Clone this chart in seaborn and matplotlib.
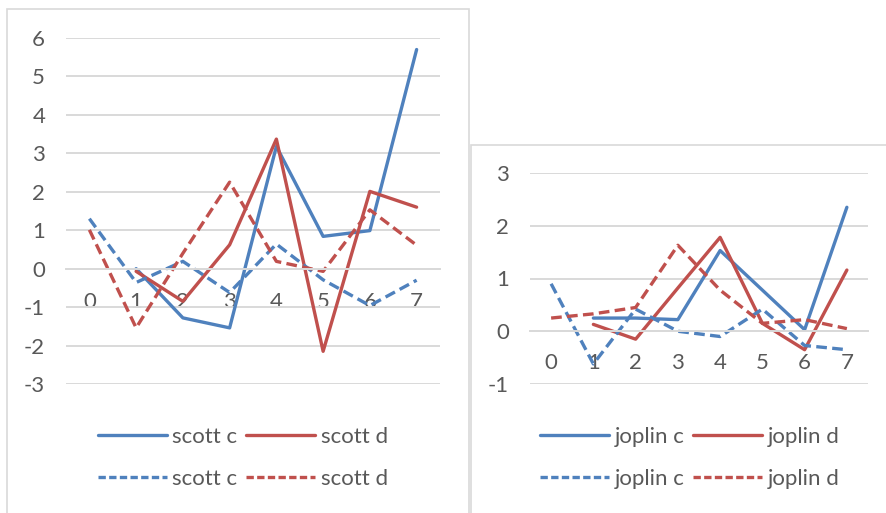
import numpy as np
import pandas as pd
import matplotlib
matplotlib.use("Agg")
import matplotlib.pyplot as plt
from matplotlib.lines import Line2D
from matplotlib.patches import Rectangle
import seaborn as sns

sns.set_style("white")
plt.rcParams['font.family'] = ['Lato', 'DejaVu Sans']
plt.rcParams['axes.unicode_minus'] = False

# category positions
cats = [0, 1, 2, 3, 4, 5, 6, 7]

# left chart (scott)
scott_c_solid = [np.nan, 0.0, -1.28, -1.54, 3.18, 0.84, 0.99, 5.70]
scott_d_solid = [np.nan, -0.07, -0.85, 0.62, 3.37, -2.15, 2.01, 1.60]
scott_c_dash = [1.30, -0.36, 0.19, -0.62, 0.64, -0.29, -0.96, -0.30]
scott_d_dash = [1.01, -1.54, 0.40, 2.25, 0.19, -0.07, 1.53, 0.61]

# right chart (joplin)
joplin_c_solid = [np.nan, 0.25, 0.25, 0.22, 1.53, 0.78, 0.03, 2.35]
joplin_d_solid = [np.nan, 0.13, -0.15, 0.82, 1.78, 0.15, -0.35, 1.16]
joplin_c_dash = [0.90, -0.62, 0.42, 0.0, -0.10, 0.42, -0.27, -0.35]
joplin_d_dash = [0.25, 0.33, 0.45, 1.63, 0.78, 0.15, 0.22, 0.05]

BLUE = "#4F81BD"
RED = "#C0504D"
GRID = "#D9D9D9"
TXT = "#595959"
W, H = 886, 513
FS = 16


def box(x0, y0, x1, y1):
    # pixel box (top-left origin) -> figure fraction rect
    return [x0 / W, 1 - y1 / H, (x1 - x0) / W, (y1 - y0) / H]


def panel(ax, name, c_solid, d_solid, c_dash, d_dash, ylim, pad_x):
    series = [
        (c_solid, BLUE, "-"),
        (d_solid, RED, "-"),
        (c_dash, BLUE, "--"),
        (d_dash, RED, "--"),
    ]
    for vals, col, ls in series:
        df = pd.DataFrame({"x": cats, "y": vals}).dropna()
        sns.lineplot(data=df, x="x", y="y", color=col, lw=2.4, ax=ax,
                     legend=False, sort=False)
        if ls == "--":
            ax.lines[-1].set_dashes((3.2, 1.6))
    ax.set_xlim(-0.5, 7.5)
    ax.set_ylim(*ylim)
    ax.set_yticks(range(ylim[0], ylim[1] + 1))
    ax.set_xticks(cats)
    ax.set_xticklabels([str(c) for c in cats])
    ax.grid(axis="y", color=GRID, lw=1.4)
    ax.grid(axis="x", visible=False)
    for s in ["top", "right", "left"]:
        ax.spines[s].set_visible(False)
    ax.spines["bottom"].set_position(("data", 0))
    ax.spines["bottom"].set_color(GRID)
    ax.spines["bottom"].set_linewidth(1.4)
    ax.tick_params(axis="both", length=0, labelsize=FS, labelcolor=TXT)
    ax.tick_params(axis="y", pad=15)
    ax.tick_params(axis="x", pad=pad_x)
    ax.set_xlabel("")
    ax.set_ylabel("")
    ax.set_facecolor("none")


fig = plt.figure(figsize=(8.86, 5.13), dpi=100)

# chart borders
fig.patches.append(Rectangle((7 / W, -0.01), (469 - 7) / W, 1 - 9 / H + 0.01,
                             transform=fig.transFigure, fill=False,
                             ec=GRID, lw=1.2))
fig.patches.append(Rectangle((471 / W, -0.01), (W + 5 - 471) / W, 1 - 145 / H + 0.01,
                             transform=fig.transFigure, fill=False,
                             ec=GRID, lw=1.2))

ax1 = fig.add_axes(box(66, 38, 440, 384))
panel(ax1, "scott", scott_c_solid, scott_d_solid, scott_c_dash, scott_d_dash,
      (-3, 6), 17)

ax2 = fig.add_axes(box(530, 173, 868, 384))
panel(ax2, "joplin", joplin_c_solid, joplin_d_solid, joplin_c_dash, joplin_d_dash,
      (-1, 3), 16)


def legend(name, cx):
    hs = [
        Line2D([], [], color=BLUE, lw=2.4),
        Line2D([], [], color=BLUE, lw=2.4, dashes=(2.2, 1.0)),
        Line2D([], [], color=RED, lw=2.4),
        Line2D([], [], color=RED, lw=2.4, dashes=(2.2, 1.0)),
    ]
    labs = [f"{name} c", f"{name} c", f"{name} d", f"{name} d"]
    leg = fig.legend(hs, labs, ncol=2, loc="center",
                     bbox_to_anchor=(cx / W, 1 - 458 / H), frameon=False,
                     fontsize=FS, handlelength=3.1, handletextpad=0.25,
                     columnspacing=0.4, labelspacing=1.0)
    for t in leg.get_texts():
        t.set_color(TXT)


legend("scott", 243)
legend("joplin", 690)

fig.savefig("out.png", dpi=100, facecolor="white")
